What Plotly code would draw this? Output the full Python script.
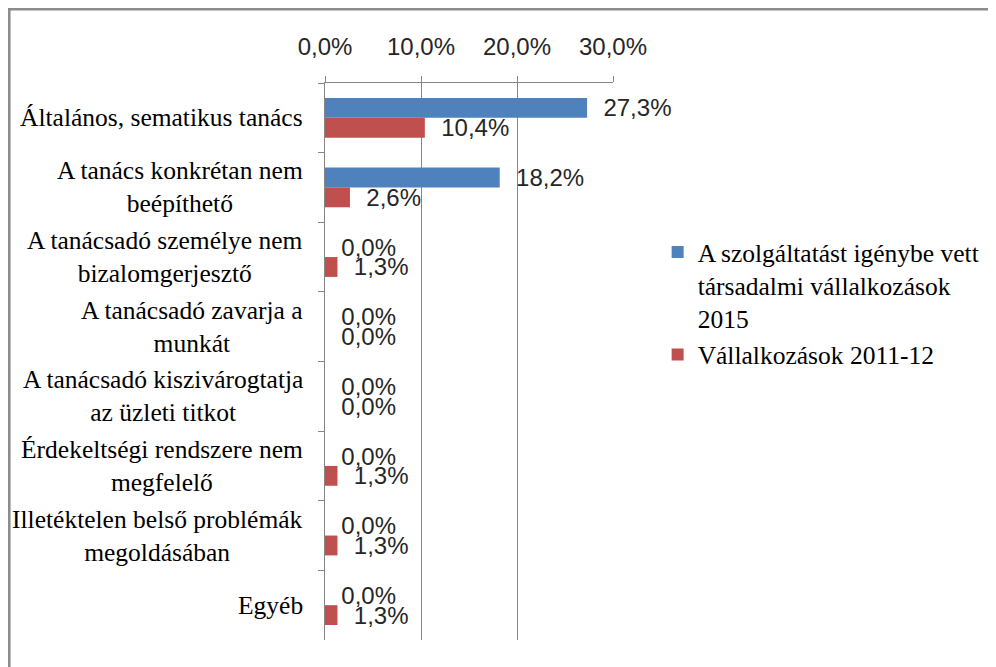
import plotly.graph_objects as go

categories = [
    "Általános, sematikus tanács",
    "A tanács konkrétan nem<br>beépíthető",
    "A tanácsadó személye nem<br>bizalomgerjesztő",
    "A tanácsadó zavarja a<br>munkát",
    "A tanácsadó kiszivárogtatja<br>az üzleti titkot",
    "Érdekeltségi rendszere nem<br>megfelelő",
    "Illetéktelen belső problémák<br>megoldásában",
    "Egyéb",
]
series_2015_name = "A szolgáltatást igénybe vett<br>társadalmi vállalkozások<br>2015"
series_2011_name = "Vállalkozások 2011-12"
values_2015 = [0.273, 0.182, 0.0, 0.0, 0.0, 0.0, 0.0, 0.0]
values_2011 = [0.104, 0.026, 0.013, 0.0, 0.0, 0.013, 0.013, 0.013]
x_ticks = [0.0, 0.1, 0.2, 0.3]

SANS = "Liberation Sans Narrow, Arial Narrow, Liberation Sans, sans-serif"
SERIF = "Liberation Serif, Times New Roman, serif"
GRID = "#868686"

fig = go.Figure()
for name, vals, color, grp in [
    (series_2015_name, values_2015, "#4F81BD", "g2015"),
    (series_2011_name, values_2011, "#C0504D", "g2011"),
]:
    fig.add_trace(go.Bar(
        y=categories, x=vals, name=name, orientation="h",
        legendgroup=grp,
        marker=dict(color=color, line=dict(width=0)),
        texttemplate="\u00a0\u00a0%{x:.1%}",
        textposition="outside",
        constraintext="none",
        cliponaxis=False,
        textfont=dict(family=SANS, size=24, color="#262626"),
    ))

for c in categories:
    fig.add_annotation(
        x=0, xref="paper", y=c, yref="y", text=c, showarrow=False,
        xanchor="right", align="center", xshift=-20,
        font=dict(family=SERIF, size=25.5, color="#000000"),
    )

fig.add_shape(type="rect", xref="paper", yref="paper",
              x0=-1.097, x1=2.4, y0=-0.2, y1=1.133,
              line=dict(color="#8c8c8c", width=3), layer="below")

fig.update_layout(
    width=988, height=659,
    margin=dict(l=317, r=383, t=75, b=27, autoexpand=False),
    paper_bgcolor="white", plot_bgcolor="white",
    separators=", ",
    barmode="group", bargap=0.43, bargroupgap=0,
    showlegend=True,
    legend=dict(
        x=1.155, xanchor="left", y=0.738, yanchor="top",
        valign="top", traceorder="normal", tracegroupgap=18,
        font=dict(family=SERIF, size=25.5, color="#000000"),
        bgcolor="rgba(0,0,0,0)",
    ),
    xaxis=dict(
        side="top", range=[0, 0.30], tickvals=x_ticks, tickformat=".1%",
        showgrid=True, gridcolor=GRID, gridwidth=1,
        showline=True, linecolor=GRID, linewidth=1,
        ticks="outside", ticklen=6, tickcolor=GRID,
        zeroline=False, ticklabelstandoff=11, automargin=False,
        tickfont=dict(family=SANS, size=24, color="#262626"),
    ),
    yaxis=dict(
        autorange="reversed", showticklabels=False,
        showline=True, linecolor=GRID, linewidth=1,
        ticks="outside", ticklen=6, tickcolor=GRID, tickson="boundaries",
        showgrid=False, zeroline=False, automargin=False,
    ),
)

fig.write_html("out.html")
